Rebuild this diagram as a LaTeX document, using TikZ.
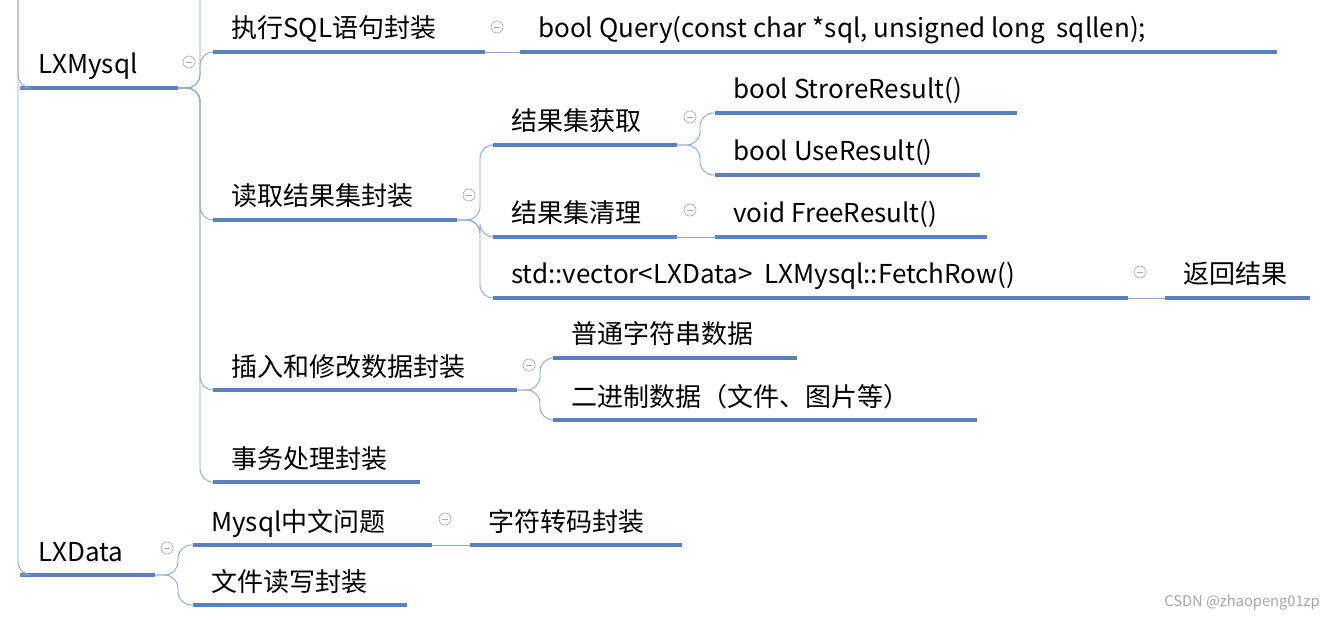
\documentclass[tikz,border=0pt]{standalone}
\usepackage{fontspec}
\setmainfont{Noto Sans CJK SC}
\begin{document}
\begin{tikzpicture}[x=0.75pt,y=-0.75pt,
  uline/.style={draw=ulc,line width=3.2pt},
  conn/.style={draw=cnc,line width=0.7pt,rounded corners=10pt},
  lbl/.style={anchor=base west,inner sep=0pt,font=\fontsize{19.5pt}{22pt}\selectfont,text=black},
  coll/.style={circle,draw=gray!70,line width=0.5pt,minimum size=9pt,inner sep=0pt}]
\definecolor{ulc}{HTML}{5B80BE}
\definecolor{cnc}{HTML}{8FA7CC}
\useasboundingbox (0,0) rectangle (1335,620);
\fill[white] (0,0) rectangle (1335,620);
\newcommand\mitem[5]{%
  \coordinate (#1-s) at (#2,#4);
  \coordinate (#1-e) at (#3,#4);
  \draw[uline] (#1-s) -- (#1-e);
  \node[lbl] (#1) at (#2+18,#4-14) {#5};}
\newcommand\mcoll[3]{\node[coll] (#1) at (#2,#3) {};
  \draw[gray!70,line width=0.5pt] ([xshift=-2.5pt]#1.center) -- ([xshift=2.5pt]#1.center);}
% items
\mitem{lxm}{20}{178}{88}{LXMysql}
\mitem{exe}{213}{485}{52}{执行SQL语句封装}
\mitem{qry}{520}{1277}{52}{bool Query(const char *sql, unsigned long\ \ sqllen);}
\mitem{rd}{213}{457}{220}{读取结果集封装}
\mitem{get}{493}{677}{145}{结果集获取}
\mitem{sr}{715}{1017}{113}{bool StroreResult()}
\mitem{ur}{715}{980}{175}{bool UseResult()}
\mitem{cl}{493}{677}{237}{结果集清理}
\mitem{fr}{715}{987}{237}{void FreeResult()}
\mitem{fetch}{493}{1128}{298}{std::vector<LXData>\ \ LXMysql::FetchRow()}
\mitem{ret}{1165}{1310}{298}{返回结果}
\mitem{ins}{213}{517}{390}{插入和修改数据封装}
\mitem{str}{553}{797}{358}{普通字符串数据}
\mitem{bin}{553}{977}{420}{二进制数据（文件、图片等）}
\mitem{tx}{213}{420}{482}{事务处理封装}
\mitem{lxd}{20}{155}{575}{LXData}
\mitem{cn}{193}{432}{545}{Mysql中文问题}
\mitem{cv}{470}{682}{545}{字符转码封装}
\mitem{fio}{193}{407}{605}{文件读写封装}
% collapse icons
\mcoll{c1}{189}{62}\mcoll{c2}{497}{27}\mcoll{c3}{469}{195}\mcoll{c4}{690}{117}
\mcoll{c5}{690}{210}\mcoll{c6}{1140}{272}\mcoll{c7}{529}{365}\mcoll{c8}{167}{548}
\mcoll{c9}{445}{519}
% connectors
\coordinate (top0) at (18,0);
\coordinate (top1) at (200,0);
\draw[conn] (top0) |- (lxm-s);
\draw[conn] (top0) |- (lxd-s);
\coordinate (j1) at (200,88);
\draw[conn] (lxm-e) -- (j1) -- (top1);
\foreach \c in {exe,rd,ins,tx} \draw[conn] (lxm-e) -- (j1) |- (\c-s);
\draw[conn] (exe-e) -- (qry-s);
\coordinate (j2) at (480,220);
\foreach \c in {get,cl,fetch} \draw[conn] (rd-e) -- (j2) |- (\c-s);
\coordinate (j3) at (700,145);
\foreach \c in {sr,ur} \draw[conn] (get-e) -- (j3) |- (\c-s);
\draw[conn] (cl-e) -- (fr-s);
\draw[conn] (fetch-e) -- (ret-s);
\coordinate (j4) at (540,390);
\foreach \c in {str,bin} \draw[conn] (ins-e) -- (j4) |- (\c-s);
\coordinate (j5) at (178,575);
\foreach \c in {cn,fio} \draw[conn] (lxd-e) -- (j5) |- (\c-s);
\draw[conn] (cn-e) -- (cv-s);
\node[anchor=base east,inner sep=0pt,text=gray!70,font=\fontsize{11pt}{12pt}\selectfont] (wm) at (1320,606) {CSDN @zhaopeng01zp};
\end{tikzpicture}
\end{document}
